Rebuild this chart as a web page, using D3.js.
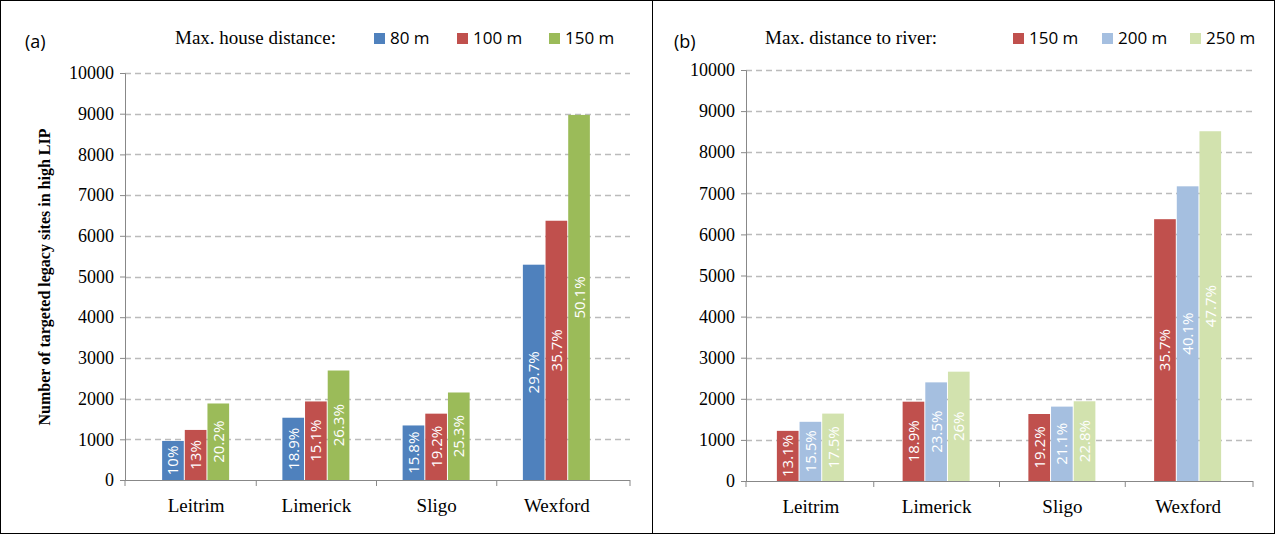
<!DOCTYPE html>
<html><head><meta charset="utf-8">
<script src="https://cdn.jsdelivr.net/npm/d3@7"></script>
<style>body{margin:0;background:#fff}</style>
</head><body>
<svg id="c" width="1275" height="534"></svg>
<script>
const categories = ['Leitrim', 'Limerick', 'Sligo', 'Wexford'];
const yTicks = [0,1000,2000,3000,4000,5000,6000,7000,8000,9000,10000];

const seriesA = ['80 m', '100 m', '150 m'];
const valuesA = [[960, 1530, 1340, 5290], [1230, 1930, 1630, 6370], [1880, 2690, 2150, 8970]];
const labelsA = [['10%', '18.9%', '15.8%', '29.7%'], ['13%', '15.1%', '19.2%', '35.7%'], ['20.2%', '26.3%', '25.3%', '50.1%']];

const seriesB = ['150 m', '200 m', '250 m'];
const valuesB = [[1220, 1930, 1630, 6370], [1440, 2400, 1810, 7170], [1640, 2660, 1940, 8510]];
const labelsB = [['13.1%', '18.9%', '19.2%', '35.7%'], ['15.5%', '23.5%', '21.1%', '40.1%'], ['17.5%', '26%', '22.8%', '47.7%']];

const svg = d3.select('#c');
svg.append('rect').attr('x', 0.5).attr('y', 0.5).attr('width', 1274).attr('height', 533).attr('fill', 'none').attr('stroke', '#000');
svg.append('line').attr('x1', 652.5).attr('x2', 652.5).attr('y1', 0).attr('y2', 534).attr('stroke', '#000');

const serif = 'Liberation Serif, serif';
const sans = 'Open Sans, sans-serif';

function panel(o) {
  const g = svg.append('g');
  const y = d3.scaleLinear().domain([0, 10000]).range([o.y0, o.y1]);
  const x = d3.scaleBand().domain(categories).range([o.bx0, o.bx1]);
  const xs = d3.scaleBand().domain(d3.range(3)).range([0, 68]);

  g.selectAll('.grid').data(yTicks.slice(1)).join('line')
    .attr('x1', o.x0).attr('x2', o.x1).attr('y1', d => Math.round(y(d)) + 0.5).attr('y2', d => Math.round(y(d)) + 0.5)
    .attr('stroke', '#bbb').attr('stroke-width', 1.5).attr('stroke-dasharray', '6,4');

  const ax = g.append('g').attr('transform', `translate(${o.x0},0)`)
    .call(d3.axisLeft(y).tickValues(yTicks).tickFormat(d3.format('d')).tickSize(5).tickPadding(6));
  ax.select('.domain').attr('stroke', '#888');
  ax.selectAll('line').attr('stroke', '#888');
  ax.selectAll('text').attr('font-family', serif).attr('font-size', 18).attr('fill', '#000');

  const xa = g.append('g').attr('transform', `translate(0,${o.y0})`)
    .call(d3.axisBottom(x).tickSize(0).tickPadding(19));
  xa.select('.domain').remove();
  g.append('line').attr('x1', o.x0).attr('x2', o.x1).attr('y1', o.y0 + 0.5).attr('y2', o.y0 + 0.5).attr('stroke', '#888');
  xa.selectAll('text').attr('font-family', serif).attr('font-size', 19).attr('fill', '#000');
  g.selectAll('.sep').data(d3.range(5)).join('line')
    .attr('x1', i => i === 0 ? o.x0 : (i === 4 ? o.x1 : o.bx0 + i * x.step()))
    .attr('x2', i => i === 0 ? o.x0 : (i === 4 ? o.x1 : o.bx0 + i * x.step()))
    .attr('y1', o.y0).attr('y2', o.y0 + 6).attr('stroke', '#888');

  o.values.forEach((vals, s) => {
    vals.forEach((v, i) => {
      const bx = x(categories[i]) + x.bandwidth() / 2 - 34 + xs(s);
      g.append('rect').attr('x', bx).attr('y', y(v)).attr('width', xs.bandwidth() - 1)
        .attr('height', o.y0 - y(v)).attr('fill', o.colors[s]);
      const cx = bx + xs.bandwidth() / 2;
      g.append('text').attr('transform', `translate(${cx + 5},${(o.y0 + y(v)) / 2}) rotate(-90)`)
        .attr('text-anchor', 'middle')
        .attr('font-family', sans).attr('font-size', 15).attr('fill', '#fff')
        .text(o.labels[s][i]);
    });
  });

  g.append('text').attr('x', o.tagX).attr('y', 48).attr('font-family', sans).attr('font-size', 18).text(o.tag);
  g.append('text').attr('x', o.legX).attr('y', 44).attr('font-family', serif).attr('font-size', 19).text(o.legTitle);
  o.series.forEach((s, i) => {
    g.append('rect').attr('x', o.swX[i]).attr('y', 33).attr('width', 11).attr('height', 11).attr('fill', o.colors[i]);
    g.append('text').attr('x', o.swX[i] + 16).attr('y', 44).attr('font-family', sans).attr('font-size', 17).text(s);
  });
}

panel({x0: 125, x1: 630, bx0: 136, bx1: 617, y0: 480, y1: 73, values: valuesA, labels: labelsA, series: seriesA,
  colors: ['#4f81bd', '#c0504d', '#9bbb59'], tag: '(a)', tagX: 25, legX: 175, legTitle: 'Max. house distance:',
  swX: [374, 457, 549]});
panel({x0: 746, x1: 1253, bx0: 748, bx1: 1251, y0: 481, y1: 70, values: valuesB, labels: labelsB, series: seriesB,
  colors: ['#c0504d', '#a5bfe0', '#d2e2ae'], tag: '(b)', tagX: 674, legX: 765, legTitle: 'Max. distance to river:',
  swX: [1013, 1102, 1190]});

svg.append('text').attr('transform', 'translate(50,277) rotate(-90)').attr('text-anchor', 'middle')
  .attr('font-family', serif).attr('font-size', 16).attr('font-weight', 'bold')
  .text('Number of targeted legacy sites in high LIP');
</script>
</body></html>
